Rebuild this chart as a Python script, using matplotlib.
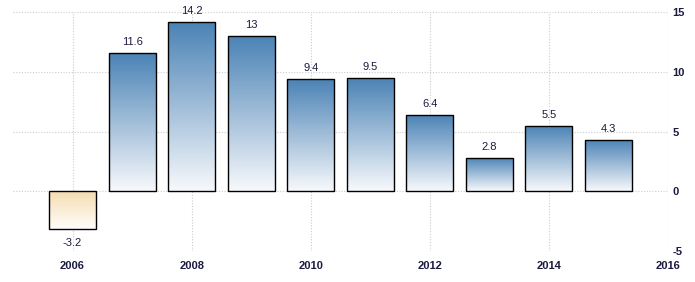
import matplotlib
matplotlib.use("Agg")
import matplotlib.pyplot as plt
import numpy as np
from matplotlib.colors import LinearSegmentedColormap

years = [2006, 2007, 2008, 2009, 2010, 2011, 2012, 2013, 2014, 2015]
values = [-3.2, 11.6, 14.2, 13, 9.4, 9.5, 6.4, 2.8, 5.5, 4.3]
labels = ["-3.2", "11.6", "14.2", "13", "9.4", "9.5", "6.4", "2.8", "5.5", "4.3"]
xticks = [2006, 2008, 2010, 2012, 2014, 2016]
yticks = [-5, 0, 5, 10, 15]

plt.rcParams['font.family'] = ['Liberation Sans', 'DejaVu Sans']
plt.rcParams['axes.unicode_minus'] = False
fig = plt.figure(figsize=(6.95, 2.82), dpi=100)
ax = fig.add_axes([13/695, 1-251/282, (668-13)/695, (251-12)/282])
ax.set_xlim(2005.0, 2016.0)
ax.set_ylim(-5, 15)

blue = LinearSegmentedColormap.from_list("b", ["#f7f9fc", "#4a82b5"])
orange = LinearSegmentedColormap.from_list("o", ["#fffdfa", "#f5dcb0"])
width = 0.79
bars = ax.bar(years, values, width=width, color="none", edgecolor="black", linewidth=1.0, zorder=3)
grad = np.linspace(0, 1, 256).reshape(-1, 1)
for b, v in zip(bars, values):
    x0 = b.get_x(); x1 = x0 + b.get_width()
    y0, y1 = min(0, v), max(0, v)
    cmap = blue if v >= 0 else orange
    im = ax.imshow(grad, extent=[x0, x1, y0, y1], origin="lower", cmap=cmap,
                   aspect="auto", zorder=2, interpolation="bilinear")
    im.set_clip_path(b)

for yr, v, t in zip(years, values, labels):
    if v >= 0:
        ax.annotate(t, (yr, v), xytext=(0, 4), textcoords="offset points",
                    ha="center", va="bottom", fontsize=8, color="#1a1a40", zorder=4)
    else:
        ax.annotate(t, (yr, v), xytext=(0, -6), textcoords="offset points",
                    ha="center", va="top", fontsize=8, color="#1a1a40", zorder=4)

ax.set_xticks(xticks)
ax.set_xticklabels([str(x) for x in xticks])
ax.set_yticks(yticks)
ax.yaxis.tick_right()
ax.tick_params(axis="both", length=0, labelsize=8, labelcolor="#1a1a40")
ax.tick_params(axis="x", pad=7)
ax.tick_params(axis="y", pad=3)
for lab in ax.get_xticklabels() + ax.get_yticklabels():
    lab.set_fontweight("bold")
ax.grid(True, color="#cccccc", linestyle=(0, (1, 1.5)), linewidth=0.8, zorder=0)
ax.set_axisbelow(True)
for s in ax.spines.values():
    s.set_visible(False)
ax.axvline(2016, color="#cccccc", linestyle=(0, (1, 1.5)), linewidth=0.8, zorder=0)
fig.savefig("out.png", dpi=100)
